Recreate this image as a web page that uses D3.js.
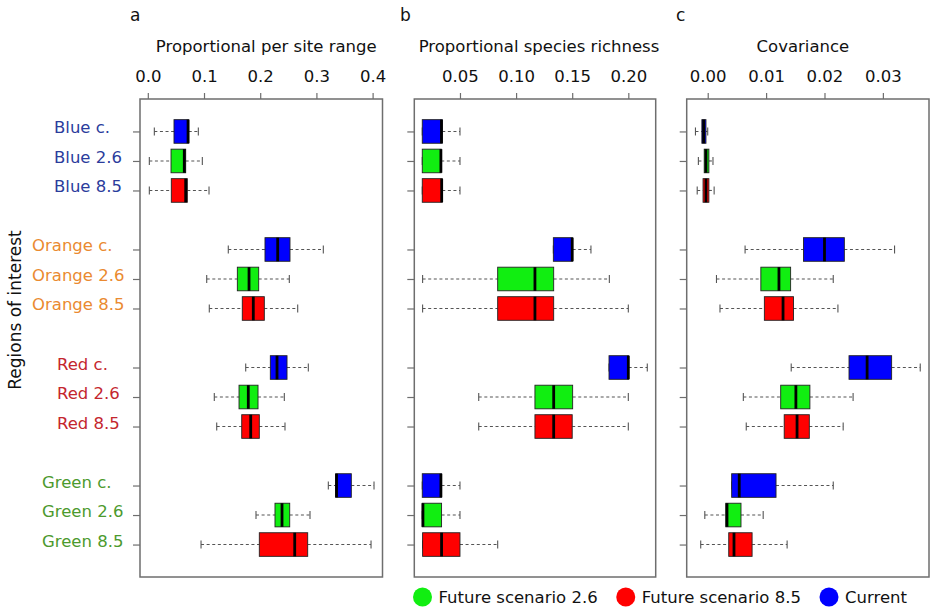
<!DOCTYPE html>
<html>
<head>
<meta charset="utf-8">
<script src="https://cdn.jsdelivr.net/npm/d3@7"></script>
<style>
  body { margin: 0; background: #fff; }
  svg text { font-family: "DejaVu Sans", sans-serif; }
</style>
</head>
<body>
<svg id="chart" width="930" height="611"></svg>
<script>
// ---------------------------------------------------------------
// data: one box per row, [lower whisker, q1, median, q3, upper whisker]
// ---------------------------------------------------------------

var rowNames  = ["Blue c.", "Blue 2.6", "Blue 8.5",
                 "Orange c.", "Orange 2.6", "Orange 8.5",
                 "Red c.", "Red 2.6", "Red 8.5",
                 "Green c.", "Green 2.6", "Green 8.5"];
var rowGroup  = ["Blue", "Blue", "Blue", "Orange", "Orange", "Orange",
                 "Red", "Red", "Red", "Green", "Green", "Green"];
var rowPos    = [1, 2, 3, 5, 6, 7, 9, 10, 11, 13, 14, 15];
var rowSeries = ["Current", "Future scenario 2.6", "Future scenario 8.5",
                 "Current", "Future scenario 2.6", "Future scenario 8.5",
                 "Current", "Future scenario 2.6", "Future scenario 8.5",
                 "Current", "Future scenario 2.6", "Future scenario 8.5"];

var legendNames = ["Future scenario 2.6", "Future scenario 8.5", "Current"];

var rangeStats = [
  [0.0116, 0.0466, 0.0716, 0.0728, 0.0899],
  [0.0027, 0.0413, 0.0649, 0.0674, 0.0970],
  [0.0027, 0.0418, 0.0674, 0.0703, 0.1089],
  [0.1432, 0.2085, 0.2311, 0.2530, 0.3123],
  [0.1048, 0.1593, 0.1801, 0.1973, 0.2518],
  [0.1094, 0.1681, 0.1877, 0.2073, 0.2667],
  [0.1742, 0.2180, 0.2299, 0.2477, 0.2856],
  [0.1183, 0.1623, 0.1788, 0.1961, 0.2429],
  [0.1226, 0.1671, 0.1831, 0.1984, 0.2441],
  [0.3212, 0.3343, 0.3358, 0.3621, 0.4025],
  [0.1925, 0.2263, 0.2388, 0.2525, 0.2886],
  [0.0947, 0.1984, 0.2614, 0.2845, 0.3972]
];
var rangeTicks = [0.0, 0.1, 0.2, 0.3, 0.4];

var richStats = [
  [0.0164, 0.0164, 0.0335, 0.0342, 0.0500],
  [0.0164, 0.0164, 0.0330, 0.0333, 0.0500],
  [0.0164, 0.0164, 0.0337, 0.0342, 0.0500],
  [0.1332, 0.1332, 0.1500, 0.1504, 0.1667],
  [0.0167, 0.0836, 0.1168, 0.1335, 0.1831],
  [0.0167, 0.0836, 0.1168, 0.1335, 0.2000],
  [0.1828, 0.1828, 0.2000, 0.2003, 0.2169],
  [0.0667, 0.1168, 0.1335, 0.1504, 0.2000],
  [0.0667, 0.1168, 0.1335, 0.1500, 0.2000],
  [0.0164, 0.0164, 0.0330, 0.0336, 0.0500],
  [0.0164, 0.0164, 0.0170, 0.0336, 0.0500],
  [0.0167, 0.0167, 0.0336, 0.0500, 0.0836]
];
var richTicks = [0.05, 0.10, 0.15, 0.20];

var covStats = [
  [-0.0021, -0.0010, -0.0007, -0.0003, 0.0000],
  [-0.0016, -0.0006, -0.0003, 0.0002, 0.0009],
  [-0.0018, -0.0008, -0.0003, 0.0002, 0.0011],
  [0.0064, 0.0164, 0.0200, 0.0234, 0.0320],
  [0.0015, 0.0091, 0.0122, 0.0142, 0.0215],
  [0.0021, 0.0097, 0.0129, 0.0147, 0.0223],
  [0.0143, 0.0242, 0.0273, 0.0315, 0.0364],
  [0.0061, 0.0125, 0.0151, 0.0175, 0.0249],
  [0.0066, 0.0131, 0.0153, 0.0174, 0.0232],
  [0.0041, 0.0041, 0.0054, 0.0117, 0.0215],
  [-0.0005, 0.0031, 0.0033, 0.0057, 0.0095],
  [-0.0012, 0.0036, 0.0045, 0.0076, 0.0136]
];
var covTicks = [0.00, 0.01, 0.02, 0.03];

// ---------------------------------------------------------------
// look
// ---------------------------------------------------------------

var seriesColor = {
  "Current": "#0000ff",
  "Future scenario 2.6": "#11ee11",
  "Future scenario 8.5": "#ff0000"
};
var groupColor = { Blue: "#2b3c9c", Orange: "#ea8a30", Red: "#c4262e", Green: "#4c9a2e" };
var groupLabelX = { Blue: 54, Orange: 32, Red: 57, Green: 42 };

var frameTop = 99, frameBottom = 577;
var frameColor = "#6e6e6e";

var svg = d3.select("#chart");

// rows: R style limits (0.5 .. 15.5 plus 4%)
var yScale = d3.scaleLinear()
               .domain([-0.1, 16.1])
               .range([frameTop, frameBottom]);
var boxH = (yScale(0.8) - yScale(0));   // box covers 0.8 of a row

// ---------------------------------------------------------------
// one panel of boxes
// ---------------------------------------------------------------

function drawPanel(p) {

  var xScale = d3.scaleLinear()
                 .domain(p.domain)
                 .range([p.left, p.right]);

  var g = svg.append("g");

  // frame
  g.append("rect")
   .attr("x", p.left).attr("y", frameTop)
   .attr("width", p.right - p.left)
   .attr("height", frameBottom - frameTop)
   .attr("fill", "none")
   .attr("stroke", frameColor)
   .attr("stroke-width", 1.5);

  // top axis, ticks point out
  var axisTop = d3.axisTop(xScale)
                  .tickValues(p.ticks)
                  .tickFormat(d3.format(p.fmt))
                  .tickSizeInner(6)
                  .tickSizeOuter(0)
                  .tickPadding(11);

  var ax = g.append("g")
            .attr("transform", "translate(0," + frameTop + ")")
            .call(axisTop);
  ax.select(".domain").remove();
  ax.selectAll(".tick line").attr("stroke", frameColor).attr("stroke-width", 1.2);
  ax.selectAll(".tick text")
    .attr("fill", "#111")
    .style("font-size", "16.5px")
    .style("font-family", "'DejaVu Sans', sans-serif");

  // left axis ticks only
  var axisLeft = d3.axisLeft(yScale)
                   .tickValues(rowPos)
                   .tickFormat("")
                   .tickSizeInner(7)
                   .tickSizeOuter(0);
  var ay = g.append("g")
            .attr("transform", "translate(" + p.left + ",0)")
            .call(axisLeft);
  ay.select(".domain").remove();
  ay.selectAll(".tick line").attr("stroke", frameColor).attr("stroke-width", 1.2);

  // letter and title
  g.append("text")
   .attr("x", p.letterX).attr("y", 21)
   .style("font-size", "17px")
   .attr("fill", "#111")
   .text(p.letter);

  g.append("text")
   .attr("x", (p.left + p.right) / 2 + p.titleShift).attr("y", 52)
   .attr("text-anchor", "middle")
   .style("font-size", "16.5px")
   .attr("fill", "#111")
   .text(p.title);

  // boxes
  var box = g.selectAll(".box")
             .data(p.stats)
             .enter().append("g")
             .attr("class", "box")
             .attr("transform", function(d, i) { return "translate(0," + yScale(rowPos[i]) + ")"; });

  // dashed whiskers
  box.append("line")
     .attr("x1", function(d) { return xScale(d[0]); })
     .attr("x2", function(d) { return xScale(d[1]); })
     .attr("stroke", "#555").attr("stroke-width", 1.1)
     .attr("stroke-dasharray", "3,2.6");
  box.append("line")
     .attr("x1", function(d) { return xScale(d[3]); })
     .attr("x2", function(d) { return xScale(d[4]); })
     .attr("stroke", "#555").attr("stroke-width", 1.1)
     .attr("stroke-dasharray", "3,2.6");

  // staples
  [0, 4].forEach(function(k) {
    box.append("line")
       .attr("x1", function(d) { return xScale(d[k]); })
       .attr("x2", function(d) { return xScale(d[k]); })
       .attr("y1", -4).attr("y2", 4)
       .attr("stroke", "#555").attr("stroke-width", 1.1);
  });

  box.append("rect")
     .attr("x", function(d) { return xScale(d[1]); })
     .attr("y", -boxH / 2)
     .attr("width", function(d) { return Math.max(1, xScale(d[3]) - xScale(d[1])); })
     .attr("height", boxH)
     .attr("fill", function(d, i) { return seriesColor[rowSeries[i]]; })
     .attr("stroke", "#222").attr("stroke-width", 0.9);

  // median
  box.append("line")
     .attr("x1", function(d) { return xScale(d[2]); })
     .attr("x2", function(d) { return xScale(d[2]); })
     .attr("y1", -boxH / 2).attr("y2", boxH / 2)
     .attr("stroke", "#000").attr("stroke-width", 2.8);
}

drawPanel({ letter: "a", letterX: 130, title: "Proportional per site range", titleShift: 5,
            left: 140, right: 382.5, domain: [-0.0139, 0.4176],
            ticks: rangeTicks, fmt: ".1f", stats: rangeStats });

drawPanel({ letter: "b", letterX: 400, title: "Proportional species richness", titleShift: 4,
            left: 414.3, right: 655.7, domain: [0.0093, 0.2244],
            ticks: richTicks, fmt: ".2f", stats: richStats });

drawPanel({ letter: "c", letterX: 676, title: "Covariance", titleShift: -5,
            left: 686.7, right: 929, domain: [-0.0036, 0.0379],
            ticks: covTicks, fmt: ".2f", stats: covStats });

// ---------------------------------------------------------------
// row labels, y title
// ---------------------------------------------------------------

svg.selectAll(".rowLabel")
   .data(rowNames)
   .enter().append("text")
   .attr("class", "rowLabel")
   .attr("x", function(d, i) { return groupLabelX[rowGroup[i]]; })
   .attr("y", function(d, i) { return yScale(rowPos[i]) + 2; })
   .style("font-size", "16.5px")
   .attr("fill", function(d, i) { return groupColor[rowGroup[i]]; })
   .text(function(d) { return d; });

svg.append("text")
   .attr("transform", "translate(21,310) rotate(-90)")
   .attr("text-anchor", "middle")
   .style("font-size", "17px")
   .attr("fill", "#111")
   .text("Regions of interest");

// ---------------------------------------------------------------
// legend
// ---------------------------------------------------------------

var legendX = d3.scalePoint()
                .domain(legendNames)
                .range([422.5, 829]);

var leg = svg.selectAll(".leg")
             .data(legendNames)
             .enter().append("g")
             .attr("class", "leg")
             .attr("transform", function(d) { return "translate(" + legendX(d) + ",597)"; });

leg.append("circle")
   .attr("r", 9.5)
   .attr("fill", function(d) { return seriesColor[d]; });

leg.append("text")
   .attr("x", 16).attr("y", 6)
   .style("font-size", "16.5px")
   .attr("fill", "#111")
   .text(function(d) { return d; });
</script>
</body>
</html>
